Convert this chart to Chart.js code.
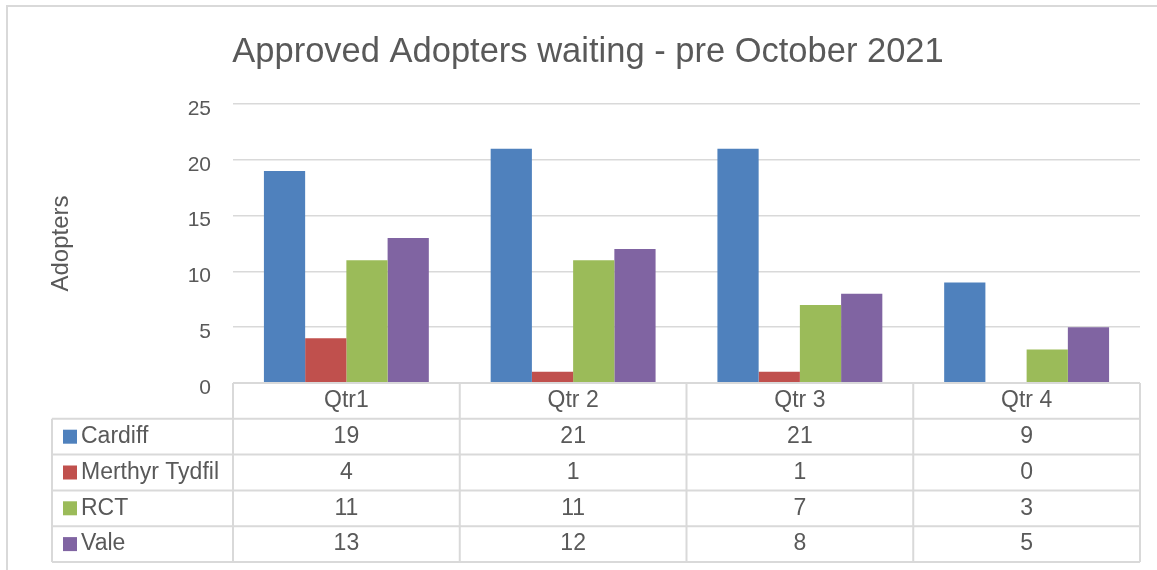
<!DOCTYPE html>
<html>
<head>
<meta charset="utf-8">
<title>Approved Adopters waiting</title>
<script src="https://cdn.jsdelivr.net/npm/chart.js@4/dist/chart.umd.min.js"></script>
<style>
  html, body { margin: 0; padding: 0; background: #fff; }
  #wrap { width: 1157px; height: 570px; position: relative; }
</style>
</head>
<body>
<div id="wrap"><canvas id="adoptersChart" width="1157" height="570"></canvas></div>
<script>
// data
const quarters = ["Qtr1", "Qtr 2", "Qtr 3", "Qtr 4"];
const cardiff = [19, 21, 21, 9];
const merthyr = [4, 1, 1, 0];
const rct = [11, 11, 7, 3];
const vale = [13, 12, 8, 5];
const yTicks = [0, 5, 10, 15, 20, 25];

//colours and fonts
const TEXT = "#595959";
const GRID = "#d9d9d9";
const FONT = "'Liberation Sans', Arial, sans-serif";

//outer frame of the chart object
const framePlugin = {
  id: "frame",
  beforeDraw(chart) {
    const ctx = chart.ctx;
    ctx.save();
    ctx.fillStyle = "#fff";
    ctx.fillRect(0, 0, chart.width, chart.height);
    ctx.strokeStyle = GRID;
    ctx.lineWidth = 2;
    ctx.strokeRect(7, 6, chart.width + 20, chart.height + 20);
    ctx.restore();
  }
};

//data table under the bars (Excel style)
const tablePlugin = {
  id: "dataTable",
  afterDraw(chart) {
    const ctx = chart.ctx;
    const area = chart.chartArea;
    const labels = chart.data.labels;
    const sets = chart.data.datasets;
    const colW = (area.right - area.left) / labels.length;
    const rowH = 35.8;
    const top = area.bottom;
    const leftX = 52;
    const bottom = top + rowH * (sets.length + 1);

    ctx.save();
    ctx.strokeStyle = GRID;
    ctx.lineWidth = 2;

    //horizontal lines
    ctx.beginPath();
    ctx.moveTo(area.left, top);
    ctx.lineTo(area.right, top);
    for (let r = 1; r <= sets.length + 1; r++) {
      const y = top + rowH * r;
      ctx.moveTo(leftX, y);
      ctx.lineTo(area.right, y);
    }
    //vertical lines
    ctx.moveTo(leftX, top + rowH);
    ctx.lineTo(leftX, bottom);
    for (let c = 0; c <= labels.length; c++) {
      const x = area.left + colW * c;
      ctx.moveTo(x, top);
      ctx.lineTo(x, bottom);
    }
    ctx.stroke();

    ctx.fillStyle = TEXT;
    ctx.font = "23px " + FONT;
    ctx.textBaseline = "middle";
    ctx.textAlign = "center";

    //header
    labels.forEach((lab, i) => {
      ctx.fillText(lab, chart.scales.x.getPixelForValue(i), top + rowH / 2);
    });

    //rows
    sets.forEach((ds, r) => {
      const cy = top + rowH * (r + 1.5);
      ctx.fillStyle = ds.backgroundColor;
      ctx.fillRect(63, cy - 7, 14, 14);
      ctx.fillStyle = TEXT;
      ctx.textAlign = "left";
      ctx.fillText(ds.label, 81, cy);
      ctx.textAlign = "center";
      ds.data.forEach((v, i) => {
        ctx.fillText(String(v), chart.scales.x.getPixelForValue(i), cy);
      });
    });
    ctx.restore();
  }
};

const ctx = document.getElementById("adoptersChart").getContext("2d");

new Chart(ctx, {
  type: "bar",
  data: {
    labels: quarters,
    datasets: [
      { label: "Cardiff", data: cardiff, backgroundColor: "#4f81bd" },
      { label: "Merthyr Tydfil", data: merthyr, backgroundColor: "#c0504d" },
      { label: "RCT", data: rct, backgroundColor: "#9bbb59" },
      { label: "Vale", data: vale, backgroundColor: "#8064a2" }
    ]
  },
  options: {
    responsive: false,
    animation: false,
    devicePixelRatio: 1,
    //left padding shifts the title centre to match the original
    layout: { padding: { left: 19, right: 0, top: 0, bottom: 0 } },
    datasets: {
      bar: { categoryPercentage: 4 / 5.5, barPercentage: 1, borderWidth: 0 }
    },
    plugins: {
      legend: { display: false },
      tooltip: { enabled: false },
      title: {
        display: true,
        text: "Approved Adopters waiting - pre October 2021",
        color: TEXT,
        font: { family: FONT, size: 34.5, weight: "normal" },
        padding: { top: 32, bottom: 30.6 }
      }
    },
    scales: {
      x: {
        ticks: { display: false },
        grid: { display: false },
        border: { display: false },
        afterFit(scale) { scale.height = 570 - 383; }
      },
      y: {
        min: 0,
        max: 25,
        afterBuildTicks(scale) { scale.ticks = yTicks.map(v => ({ value: v })); },
        ticks: {
          color: TEXT,
          padding: 22,
          labelOffset: 5,
          font: { family: FONT, size: 21 }
        },
        grid: { color: GRID, lineWidth: 1.5, drawTicks: false },
        border: { display: false },
        title: {
          display: true,
          text: "Adopters",
          color: TEXT,
          font: { family: FONT, size: 24 },
          padding: { top: 28, bottom: 0 }
        },
        afterFit(scale) { scale.width = 233 - 19; }
      },
      //empty right axis, only keeps the plot's right edge at 1140
      yRight: {
        position: "right",
        display: true,
        ticks: { display: false },
        grid: { display: false },
        border: { display: false },
        afterFit(scale) { scale.width = 17; }
      }
    }
  },
  plugins: [framePlugin, tablePlugin]
});
</script>
</body>
</html>
